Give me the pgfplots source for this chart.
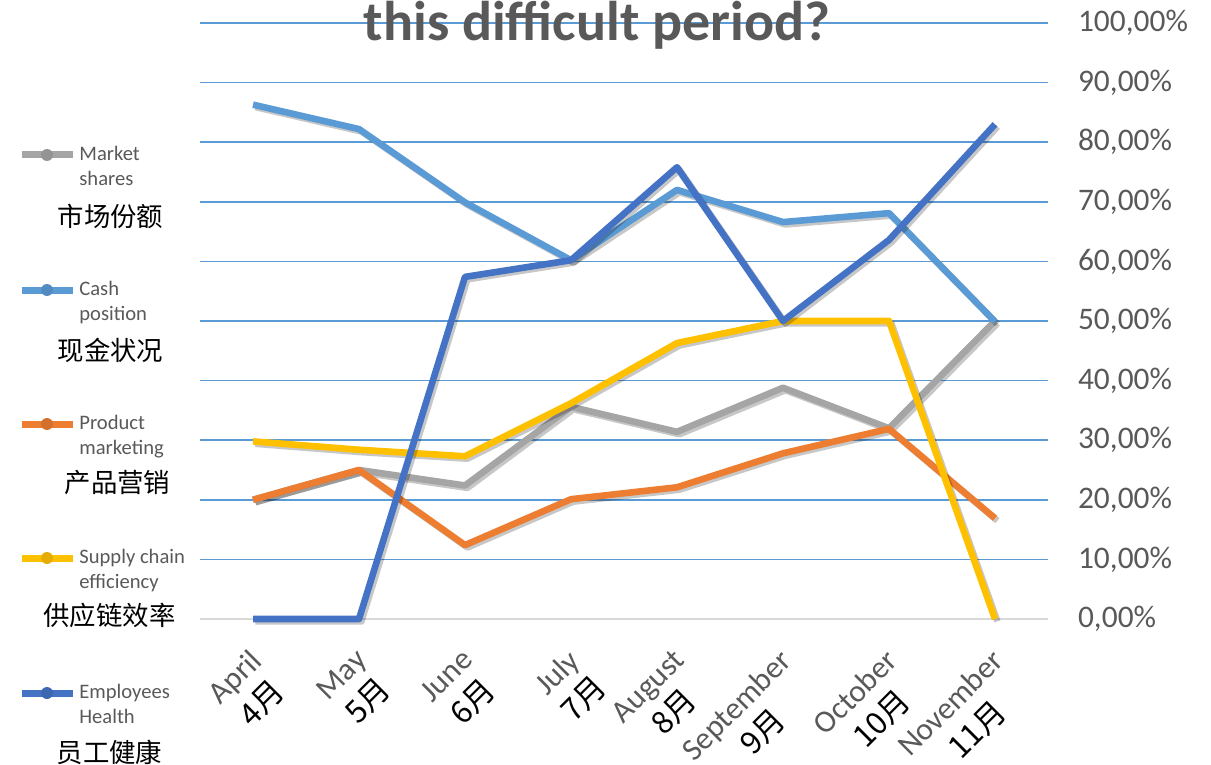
\documentclass[border=0pt]{standalone}
\usepackage{pgfplots}
\usepackage{pgfplotstable}
\pgfplotsset{compat=1.18}
\usepackage{fontspec}
\setmainfont{Carlito}
\newfontfamily\cjk{Noto Sans CJK SC}
\definecolor{labgrey}{HTML}{595959}
\definecolor{gridblue}{HTML}{5B9BD5}
\definecolor{basegrey}{HTML}{D9D9D9}
\definecolor{sGrey}{HTML}{A5A5A5}
\definecolor{sCash}{HTML}{5B9BD5}
\definecolor{sOrange}{HTML}{ED7D31}
\definecolor{sYellow}{HTML}{FFC000}
\definecolor{sBlue}{HTML}{4472C4}

\pgfplotstableread{
x market cash product supply health
0 20.0 86.3 20.0 29.8 0.0
1 25.0 82.2 25.0 28.4 0.0
2 22.4 69.9 12.4 27.3 57.4
3 35.6 60.2 20.1 36.2 60.2
4 31.4 72.0 22.1 46.3 75.8
5 38.8 66.6 27.8 50.0 50.0
6 32.0 68.1 31.9 50.0 63.6
7 50.0 49.9 16.9 0.0 83.0
}\datatable

\newcommand{\legitem}[7]{%
  \draw[#1, line width=3.5pt] (22,#2) -- (73,#2);
  \fill[#1!90!black] (47,#2) circle (6);
  \node[anchor=base west, inner sep=0pt, text=labgrey, font=\fontsize{10.3}{12}\selectfont] at (79,#2+5.5) {#3};
  \node[anchor=base west, inner sep=0pt, text=labgrey, font=\fontsize{10.3}{12}\selectfont] at (79,#2+30.5) {#4};
  \node[anchor=center, inner sep=0pt, font=\cjk\fontsize{13.2}{15}\selectfont] at (#6,#7) {#5};
}
\newcommand{\zh}[1]{\color{black}\cjk\fontsize{15.5}{19}\selectfont #1}

\begin{document}
\begin{tikzpicture}
\useasboundingbox (0,0) rectangle (605.5pt,-382.5pt);
\begin{axis}[
  at={(100pt,-309.5pt)}, anchor=south west,
  scale only axis, width=424pt, height=298pt,
  xmin=-0.5, xmax=7.5, ymin=0, ymax=100,
  clip=false,
  axis line style={draw=none},
  major tick length=0pt,
  ytick={10,20,...,100},
  extra y ticks={0},
  extra y tick style={grid style={color=basegrey, line width=1pt}},
  ymajorgrids,
  grid style={color=gridblue, line width=0.75pt},
  yticklabel pos=right,
  yticklabel={\pgfmathprintnumber[fixed,fixed zerofill,precision=2,use comma,assume math mode=true]{\tick}\%},
  yticklabel style={anchor=west, xshift=11.5pt, text=labgrey, font=\fontsize{15.7}{18}\selectfont},
  xtick={0,...,7},
  xticklabels={
    {April\\\zh{4月}},
    {May\\\zh{5月}},
    {June\\\zh{6月}},
    {July\\\zh{7月}},
    {August\\\zh{8月}},
    {September\\\zh{9月}},
    {October\\\zh{10月}},
    {November\\\zh{11月}}},
  xticklabel style={xshift=-2.5pt, yshift=-14pt, rotate=45, anchor=north east, inner sep=0pt, align=center, text=labgrey, font=\fontsize{15.7}{19}\selectfont},
  every axis plot/.append style={line width=3.3pt, line join=round, mark=none,
    preaction={draw=black, draw opacity=0.22, line width=3.3pt, transform canvas={xshift=1.2pt, yshift=-1.2pt}}},
]
\addplot[sGrey] table[x=x, y=market]{\datatable};
\addplot[sCash] table[x=x, y=cash]{\datatable};
\addplot[sOrange] table[x=x, y=product]{\datatable};
\addplot[sYellow] table[x=x, y=supply]{\datatable};
\addplot[sBlue] table[x=x, y=health]{\datatable};
\end{axis}
\node[anchor=base, inner sep=0pt, text=labgrey, font=\bfseries\fontsize{28}{30}\selectfont] at (298.5pt,-20.5pt) {this difficult period?};
\begin{scope}[x=0.5pt, y=-0.5pt]
\legitem{sGrey}{155}{Market}{shares}{市场份额}{110.5}{216}
\legitem{sCash}{290}{Cash}{position}{现金状况}{110.5}{350}
\legitem{sOrange}{424}{Product}{marketing}{产品营销}{117.5}{483}
\legitem{sYellow}{558}{Supply chain}{efficiency}{供应链效率}{109.5}{615}
\legitem{sBlue}{693}{Employees}{Health}{员工健康}{109.5}{752}
\end{scope}
\end{tikzpicture}
\end{document}
